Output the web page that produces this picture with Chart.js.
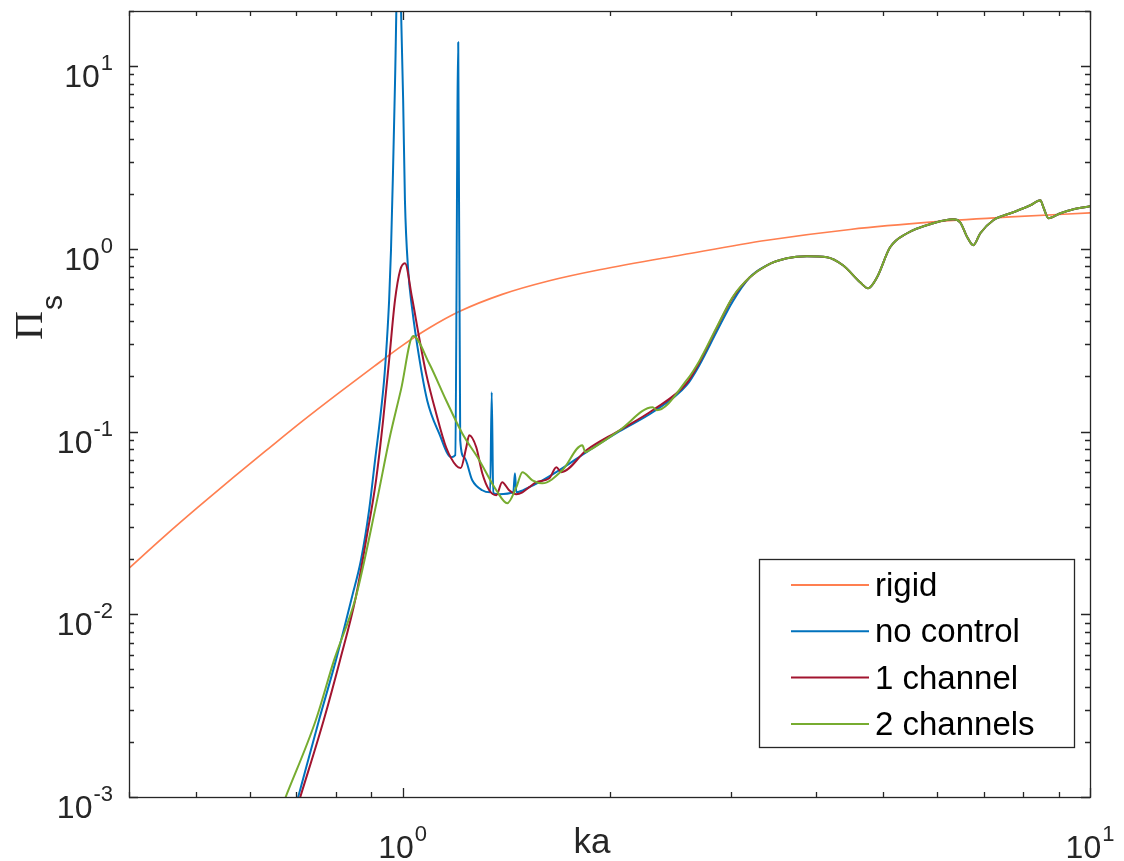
<!DOCTYPE html>
<html>
<head>
<meta charset="utf-8">
<script src="https://cdn.jsdelivr.net/npm/chart.js@4"></script>
<style>
  html, body { margin: 0; padding: 0; background: #ffffff; }
  #wrap { width: 1124px; height: 861px; position: relative; }
</style>
</head>
<body>
<div id="wrap"><canvas id="plot" width="1124" height="861"></canvas></div>
<script>
// Scattered power Π_s versus ka (log-log)

// rigid sphere
const rigidKa  = [0.400, 0.449, 0.505, 0.568, 0.639, 0.718, 0.808, 0.909, 1.000, 1.093,
                  1.209, 1.396, 1.635, 1.934, 2.555, 3.389, 4.477, 5.914, 7.657, 10.0];
const rigidVal = [0.01786, 0.02644, 0.03879, 0.0563, 0.0809, 0.1153, 0.1626, 0.2271, 0.2961, 0.3683,
                  0.4533, 0.5629, 0.6683, 0.7676, 0.9272, 1.1131, 1.2751, 1.4017, 1.4927, 1.5700];

// no control
const noCtrlKa  = [0.705, 0.756, 0.800, 0.844, 0.870, 0.894, 0.912, 0.927, 0.940, 0.949,
                   0.956, 0.962, 0.9686, 0.9752, 0.9867, 0.995, 1.002, 1.008, 1.019, 1.032,
                   1.057, 1.086, 1.130, 1.177, 1.193, 1.205, 1.213, 1.229, 1.263, 1.306,
                   1.341, 1.348, 1.355, 1.382, 1.449, 1.457, 1.464, 1.529, 1.581, 1.691,
                   1.870, 2.069, 2.311, 2.590, 2.705, 2.864, 3.022];
const noCtrlVal = [0.001, 0.00264, 0.00561, 0.0124, 0.0198, 0.0371, 0.0697, 0.1153, 0.191, 0.316,
                   0.523, 0.981, 2.69, 8.35, 60.0, 20.0, 6.49, 1.84, 0.763, 0.479,
                   0.255, 0.148, 0.0979, 0.0724, 0.0742, 13.5, 0.0896, 0.0724, 0.0541, 0.0477,
                   0.0465, 0.164, 0.0460, 0.0454, 0.0465, 0.0591, 0.0465, 0.0496, 0.0528, 0.0614,
                   0.0790, 0.1004, 0.1275, 0.1792, 0.232, 0.352, 0.515];

// 1 channel
const oneChKa  = [0.710, 0.768, 0.811, 0.855, 0.885, 0.915, 0.937, 0.956, 0.975, 0.992,
                  1.008, 1.032, 1.057, 1.082, 1.119, 1.157, 1.197, 1.215, 1.238, 1.250,
                  1.280, 1.306, 1.337, 1.369, 1.396, 1.429, 1.464, 1.494, 1.529, 1.565,
                  1.635, 1.674, 1.702, 1.851, 2.069, 2.311, 2.590, 2.705, 2.864, 3.022];
const oneChVal = [0.001, 0.00264, 0.00561, 0.0124, 0.0254, 0.0541, 0.1153, 0.2455, 0.523, 0.763,
                  0.833, 0.543, 0.328, 0.208, 0.126, 0.082, 0.0650, 0.0632, 0.082, 0.0954,
                  0.082, 0.0591, 0.0477, 0.0448, 0.0528, 0.0477, 0.0454, 0.0465, 0.0496, 0.0528,
                  0.0555, 0.0638, 0.0599, 0.0790, 0.1016, 0.1308, 0.1837, 0.240, 0.368, 0.540];

// 2 channels
const twoChKa  = [0.676, 0.748, 0.795, 0.855, 0.918, 0.956, 0.995, 1.036, 1.093, 1.157,
                  1.221, 1.293, 1.369, 1.420, 1.464, 1.494, 1.545, 1.597, 1.708, 1.826,
                  1.845, 1.870, 2.069, 2.311, 2.342, 2.590, 2.705, 2.864, 3.022];
const twoChVal = [0.001, 0.00264, 0.00561, 0.0124, 0.042, 0.0896, 0.1700, 0.333, 0.2363, 0.1483,
                  0.0979, 0.0697, 0.0477, 0.0405, 0.0496, 0.0599, 0.0541, 0.0521, 0.0614, 0.0841,
                  0.0770, 0.0790, 0.1016, 0.1358, 0.1308, 0.1908, 0.245, 0.372, 0.545];

// high-ka range where the three flexible cases coincide
const tailKa  = [3.200, 3.389, 3.623, 3.874, 4.144, 4.372, 4.630, 4.755, 4.900, 5.119,
                 5.420, 5.914, 6.324, 6.474, 6.629, 6.764, 6.925, 7.233, 7.735, 8.190,
                 8.469, 8.555, 8.701, 9.058, 9.462, 10.0];
const tailVal = [0.698, 0.812, 0.887, 0.910, 0.899, 0.812, 0.656, 0.608, 0.698, 1.019,
                 1.216, 1.379, 1.450, 1.396, 1.156, 1.045, 1.216, 1.432, 1.584, 1.730,
                 1.842, 1.687, 1.468, 1.564, 1.645, 1.708];

// axis limits and decade labels
const kaRange  = [0.4, 10];
const piRange  = [0.001, 20];
const xExponents = [0, 1];
const yExponents = [-3, -2, -1, 0, 1];

const seriesNames  = ['rigid', 'no control', '1 channel', '2 channels'];
const seriesColors = ['#FF7F50', '#0072BD', '#A2142F', '#77AC30'];

const FONT_SANS  = '"Liberation Sans", Arial, Helvetica, sans-serif';
const FONT_SERIF = '"Liberation Serif", "Times New Roman", serif';
const AXIS_COLOR = '#262626';

function toPoints(ka, val) {
  return ka.map((k, i) => ({ x: k, y: val[i] }));
}

function logTicks(min, max) {
  const out = [];
  const e0 = Math.floor(Math.log10(min)), e1 = Math.ceil(Math.log10(max));
  for (let e = e0; e <= e1; e++) {
    for (let m = 1; m <= 9; m++) {
      const v = m * Math.pow(10, e);
      if (v >= min * 0.9999 && v <= max * 1.0001) out.push({ v, major: m === 1 });
    }
  }
  return out;
}

function powerLabel(ctx, exp, anchorX, baseY, align) {
  const base = '10', sup = String(exp);
  ctx.font = '32px ' + FONT_SANS;
  const wb = ctx.measureText(base).width;
  ctx.font = '22px ' + FONT_SANS;
  const ws = ctx.measureText(sup).width;
  const total = wb + 1 + ws;
  const left = align === 'right' ? anchorX - total : anchorX - total / 2;
  ctx.textAlign = 'left';
  ctx.textBaseline = 'alphabetic';
  ctx.font = '32px ' + FONT_SANS;
  ctx.fillText(base, left, baseY);
  ctx.font = '22px ' + FONT_SANS;
  ctx.fillText(sup, left + wb + 1, baseY - 17);
}

// box axes with inward ticks, power-of-ten labels and an inset legend
const boxAxes = {
  id: 'boxAxes',
  afterDatasetsDraw(chart) {
    const { ctx, chartArea: a, scales } = chart;
    const xs = scales.x, ys = scales.y;
    ctx.save();

    ctx.strokeStyle = AXIS_COLOR;
    ctx.lineWidth = 1.3;
    ctx.beginPath();
    logTicks(xs.min, xs.max).forEach(t => {
      const px = Math.round(xs.getPixelForValue(t.v)) + 0.5;
      const len = t.major ? 9 : 5;
      ctx.moveTo(px, a.bottom); ctx.lineTo(px, a.bottom - len);
      ctx.moveTo(px, a.top);    ctx.lineTo(px, a.top + len);
    });
    logTicks(ys.min, ys.max).forEach(t => {
      const py = Math.round(ys.getPixelForValue(t.v)) + 0.5;
      const len = t.major ? 9 : 5;
      ctx.moveTo(a.left, py);  ctx.lineTo(a.left + len, py);
      ctx.moveTo(a.right, py); ctx.lineTo(a.right - len, py);
    });
    ctx.stroke();
    ctx.strokeRect(a.left + 0.5, a.top + 0.5, a.right - a.left, a.bottom - a.top);

    // tick labels
    ctx.fillStyle = AXIS_COLOR;
    xExponents.forEach(e => {
      powerLabel(ctx, e, xs.getPixelForValue(Math.pow(10, e)), a.bottom + 61, 'center');
    });
    yExponents.forEach(e => {
      powerLabel(ctx, e, a.left - 16, ys.getPixelForValue(Math.pow(10, e)) + 21, 'right');
    });

    // axis titles
    ctx.font = '35px ' + FONT_SANS;
    ctx.textAlign = 'center';
    ctx.textBaseline = 'alphabetic';
    ctx.fillText('ka', 592, a.bottom + 56);

    ctx.save();
    ctx.translate(42, 340);
    ctx.rotate(-Math.PI / 2);
    ctx.textAlign = 'left';
    ctx.font = '40px ' + FONT_SERIF;
    ctx.fillText('Π', 0, 0);
    const wPi = ctx.measureText('Π').width;
    ctx.font = '30px ' + FONT_SANS;
    ctx.fillText('s', wPi + 1, 20);
    ctx.restore();

    // legend
    const lg = { left: 759, top: 559, right: 1074, bottom: 747 };
    ctx.fillStyle = '#ffffff';
    ctx.fillRect(lg.left, lg.top, lg.right - lg.left, lg.bottom - lg.top);
    ctx.strokeStyle = AXIS_COLOR;
    ctx.lineWidth = 1.3;
    ctx.strokeRect(lg.left + 0.5, lg.top + 0.5, lg.right - lg.left, lg.bottom - lg.top);
    ctx.font = '33px ' + FONT_SANS;
    ctx.textAlign = 'left';
    chart.data.datasets.forEach((ds, i) => {
      const rowY = 585 + i * 46.3;
      ctx.strokeStyle = ds.borderColor;
      ctx.lineWidth = 2;
      ctx.beginPath();
      ctx.moveTo(791, rowY);
      ctx.lineTo(869, rowY);
      ctx.stroke();
      ctx.fillStyle = '#000000';
      ctx.fillText(ds.label, 875, rowY + 11);
    });

    ctx.restore();
  }
};

const lineStyle = {
  pointRadius: 0,
  borderJoinStyle: 'round',
  borderCapStyle: 'round',
  cubicInterpolationMode: 'monotone',
  fill: false
};

new Chart(document.getElementById('plot').getContext('2d'), {
  type: 'line',
  data: {
    datasets: [
      Object.assign({ label: seriesNames[0], data: toPoints(rigidKa, rigidVal),
        borderColor: seriesColors[0], borderWidth: 1.7, order: 4 }, lineStyle),
      Object.assign({ label: seriesNames[1], data: toPoints(noCtrlKa.concat(tailKa), noCtrlVal.concat(tailVal)),
        borderColor: seriesColors[1], borderWidth: 2, order: 3 }, lineStyle),
      Object.assign({ label: seriesNames[2], data: toPoints(oneChKa.concat(tailKa), oneChVal.concat(tailVal)),
        borderColor: seriesColors[2], borderWidth: 2, order: 2 }, lineStyle),
      Object.assign({ label: seriesNames[3], data: toPoints(twoChKa.concat(tailKa), twoChVal.concat(tailVal)),
        borderColor: seriesColors[3], borderWidth: 2, order: 1 }, lineStyle)
    ]
  },
  options: {
    responsive: false,
    animation: false,
    devicePixelRatio: 1,
    layout: { padding: { left: 129, right: 34, top: 11, bottom: 64 } },
    scales: {
      x: { type: 'logarithmic', min: kaRange[0], max: kaRange[1], display: false },
      y: { type: 'logarithmic', min: piRange[0], max: piRange[1], display: false }
    },
    plugins: {
      legend: { display: false },
      tooltip: { enabled: false }
    }
  },
  plugins: [boxAxes]
});
</script>
</body>
</html>
